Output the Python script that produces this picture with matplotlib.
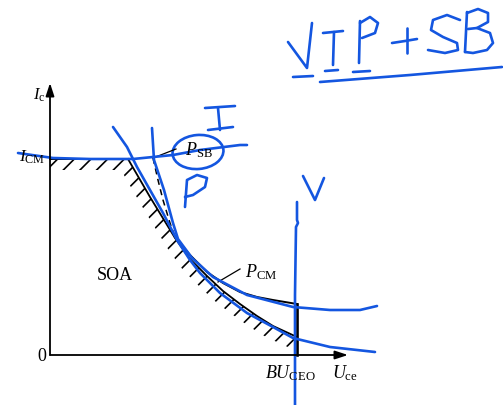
import numpy as np
import matplotlib.pyplot as plt
from matplotlib.patches import Ellipse, Polygon

plt.rcParams['font.family'] = ['Liberation Serif', 'DejaVu Serif']
plt.rcParams['mathtext.fontset'] = 'custom'
plt.rcParams['mathtext.rm'] = 'Liberation Serif'
plt.rcParams['mathtext.it'] = 'Liberation Serif:italic'
plt.rcParams['hatch.linewidth'] = 1.2

# safe operating area, U_ce along x, I_c along y (arbitrary units)
icm_u = [0, 78]
icm_i = [196, 196]
sb_u = [78, 100, 125, 140, 157, 173, 190, 207, 223, 247]
sb_i = [196, 158, 117, 96, 79, 64, 51, 39, 29, 18]
pcm_dash_u = [103, 108, 113, 120, 125]
pcm_dash_i = [197, 175, 155, 132, 118]
pcm_u = [125, 140, 157, 173, 190, 207, 223, 247]
pcm_i = [118, 100, 83, 72, 63, 58, 55, 51]
bu_ceo = 247
u_max = 298
i_max = 272

# pen notes
pen_icm = np.array([[-32, 202], [3, 197], [40, 196], [83, 196], [123, 200],
                    [150, 205], [190, 210], [197, 210]])
pen_a = np.array([[63, 228], [77, 208], [87, 188], [100, 165], [113, 142],
                  [127, 115], [140, 95], [150, 82], [170, 62], [197, 42],
                  [223, 28], [243, 17], [280, 8], [325, 3]])
pen_b = np.array([[102, 227], [104, 195], [114, 165], [123, 132], [128, 116],
                  [142, 97], [163, 78], [197, 60], [243, 48], [280, 45],
                  [310, 45], [327, 49]])
pen_v_line = np.array([[247, 153], [247, 135], [248, 132], [246, 128],
                       [245, 60], [245, -25], [245, -50]])
pen_v_small = np.array([[253, 179], [265, 155], [274, 177]])
pen_i_small = [np.array([[155, 247], [170, 248], [185, 249]]),
               np.array([[168, 247], [170, 225]]),
               np.array([[158, 225], [183, 228]])]
pen_p_small = np.array([[135, 148], [137, 175], [147, 180], [157, 177],
                        [155, 168], [143, 160], [135, 158]])
pen_circle = (148, 203, 51, 34)

# "VIP+SB" heading
note_strokes = [
    np.array([[238, 313], [257, 287], [262, 332]]),            # V
    np.array([[243, 278], [263, 279]]),
    np.array([[273, 322], [293, 324]]),                        # I
    np.array([[284, 323], [283, 290]]),
    np.array([[275, 284], [288, 285]]),
    np.array([[310, 334], [309, 292]]),                        # P
    np.array([[310, 332], [320, 338], [328, 332], [325, 322], [312, 317]]),
    np.array([[303, 283], [320, 284]]),
    np.array([[342, 312], [355, 314], [367, 316]]),            # +
    np.array([[357, 327], [357, 302]]),
    np.array([[410, 335], [397, 340], [383, 335], [381, 325], [393, 318],
              [407, 312], [408, 305], [395, 302], [378, 305]]),  # S
    np.array([[417, 343], [415, 303]]),                        # B
    np.array([[417, 342], [428, 346], [438, 342], [438, 333], [427, 327],
              [418, 326]]),
    np.array([[427, 327], [440, 322], [443, 312], [437, 305], [423, 302],
              [415, 303]]),
    np.array([[270, 273], [360, 280], [452, 288]]),            # underline
]

pen = '#1456e0'
pw = 1.9

fig = plt.figure(figsize=(5.03, 4.05), dpi=100)
ax = fig.add_axes([0, 0, 1, 1])
ax.set_xlim(-50, 453)
ax.set_ylim(-50, 355)
ax.axis('off')

# hatched band under the boundary
bu = icm_u + sb_u[1:]
bi = icm_i + sb_i[1:]
lower = [(u - 7, i - 11) for u, i in zip(bu, bi)]
lower[0] = (0, bi[0] - 11)
band = list(zip(bu, bi)) + lower[::-1]
ax.add_patch(Polygon(band, closed=True, facecolor='none', edgecolor='black',
                     linewidth=0, hatch='//'))

# axes
arrow = dict(arrowstyle='-|>,head_length=0.55,head_width=0.18',
             color='black', lw=1.3, mutation_scale=14, shrinkA=0, shrinkB=0)
ax.annotate('', xy=(0, i_max), xytext=(0, 0), arrowprops=arrow)
ax.annotate('', xy=(u_max, 0), xytext=(0, 0), arrowprops=arrow)

# boundary curves
ax.plot(icm_u, icm_i, color='black', lw=1.4)
ax.plot(sb_u, sb_i, color='black', lw=1.3)
ax.plot(pcm_dash_u, pcm_dash_i, color='black', lw=1.1, ls=(0, (4, 3)))
ax.plot(pcm_u, pcm_i, color='black', lw=1.4)
ax.plot([bu_ceo, bu_ceo], [pcm_i[-1], 0], color='black', lw=1.9)

# leaders
ax.plot([103, 126], [197, 206], color='black', lw=0.9)
ax.plot([168, 190], [73, 86], color='black', lw=0.9)

fs = 13
ax.text(-17, 255, r'$I_{\rm c}$', fontsize=12, va='baseline')
ax.text(-31, 193, r'$I_{\rm CM}$', fontsize=12.5, va='baseline')
ax.text(135, 200, r'$P_{\rm SB}$', fontsize=fs, va='baseline')
ax.text(195, 78, r'$P_{\rm CM}$', fontsize=fs, va='baseline')
ax.text(65, 80, 'SOA', fontsize=fs, ha='center', va='center')
ax.text(-8.5, -1.5, '0', fontsize=fs, ha='center', va='center')
ax.text(215, -23, r'$BU_{\rm CEO}$', fontsize=fs, va='baseline')
ax.text(282, -23, r'$U_{\rm ce}$', fontsize=fs, va='baseline')

# handwritten notes
kw = dict(color=pen, lw=pw, solid_capstyle='round', solid_joinstyle='round')
for s in [pen_icm, pen_a, pen_b, pen_v_line, pen_v_small, pen_p_small] \
        + pen_i_small + note_strokes:
    ax.plot(s[:, 0], s[:, 1], **kw)
cx, cy, w, h = pen_circle
ax.add_patch(Ellipse((cx, cy), w, h, angle=5, fill=False, edgecolor=pen,
                     lw=pw))

fig.savefig('out.png', dpi=100)
